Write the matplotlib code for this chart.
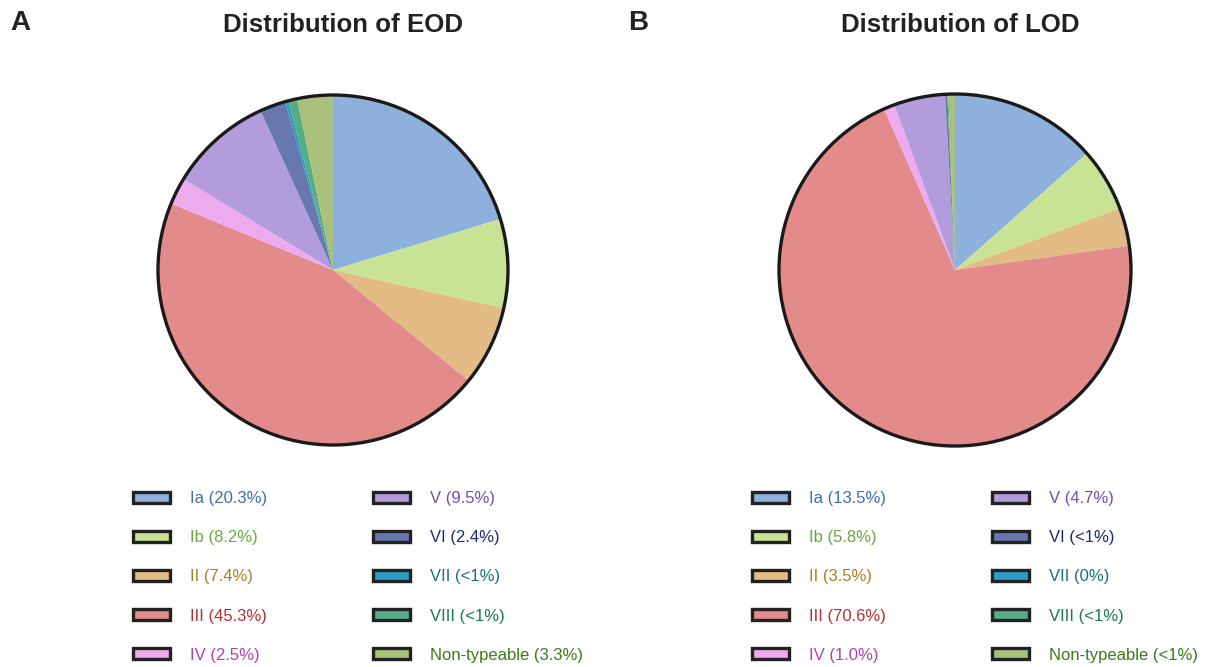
import matplotlib
matplotlib.use("Agg")
import matplotlib.pyplot as plt
from matplotlib.patches import Patch, Circle

plt.rcParams['font.family'] = ['Liberation Sans', 'DejaVu Sans']

# serotype data
serotypes = ['Ia', 'Ib', 'II', 'III', 'IV', 'V', 'VI', 'VII', 'VIII', 'Non-typeable']
eod_pct = [20.3, 8.2, 7.4, 45.3, 2.5, 9.5, 2.4, 0.3, 0.8, 3.3]
lod_pct = [13.5, 5.8, 3.5, 70.6, 1.0, 4.7, 0.2, 0.0, 0.1, 0.6]
eod_labels = ['20.3%', '8.2%', '7.4%', '45.3%', '2.5%', '9.5%', '2.4%', '<1%', '<1%', '3.3%']
lod_labels = ['13.5%', '5.8%', '3.5%', '70.6%', '1.0%', '4.7%', '<1%', '0%', '<1%', '<1%']

wedge_colors = ['#8eb0dc', '#c8e296', '#e3bb85', '#e38b8b', '#eeaaee',
                '#b39cdb', '#6877ad', '#2a9ec4', '#55ad85', '#a9c17b']
text_colors = ['#3b6fae', '#6aaa3c', '#b07a2a', '#b3302e', '#b23fb3',
               '#6e4fb0', '#1d2a78', '#1f6a85', '#1b7a48', '#3b7a18']

W, H = 1206, 667
fig = plt.figure(figsize=(W / 100, H / 100), dpi=100)

LIM = 1.05


def draw_panel(cx, cy, r, values, pct_labels, title, tx, letter, lx, leg_x):
    half = r * LIM
    ax = fig.add_axes([(cx - half) / W, (H - cy - half) / H, 2 * half / W, 2 * half / H])
    ax.pie(values, colors=wedge_colors, startangle=90, counterclock=False,
           wedgeprops=dict(linewidth=0))
    ax.add_patch(Circle((0, 0), 1, fill=False, edgecolor='#1a1a1a', linewidth=2.4))
    ax.set_xlim(-LIM, LIM)
    ax.set_ylim(-LIM, LIM)
    ax.set_aspect('equal')
    ax.axis('off')

    fig.text(tx / W, 1 - 25 / H, title, ha='center', va='center',
             fontsize=18.6, fontweight='bold', color='#222222')
    fig.text(lx / W, 1 - 23 / H, letter, ha='left', va='center',
             fontsize=20, fontweight='bold', color='#222222')

    handles = [Patch(facecolor=c, edgecolor='#222222', linewidth=2.4) for c in wedge_colors]
    labels = [f'{s} ({p})' for s, p in zip(serotypes, pct_labels)]
    leg = fig.legend(handles, labels, ncol=2, loc='upper left',
                     bbox_to_anchor=(leg_x / W, 1 - 491 / H),
                     frameon=False, fontsize=12, borderpad=0, borderaxespad=0,
                     handlelength=2.2, handleheight=0.62, handletextpad=1.2,
                     labelspacing=1.45, columnspacing=6.4)
    for t, c in zip(leg.get_texts(), text_colors):
        t.set_color(c)


draw_panel(333, 270, 175, eod_pct, eod_labels, 'Distribution of EOD', 343, 'A', 10, 133)
draw_panel(955, 270, 176, lod_pct, lod_labels, 'Distribution of LOD', 960, 'B', 628, 752)

fig.savefig('out.png', dpi=100)
